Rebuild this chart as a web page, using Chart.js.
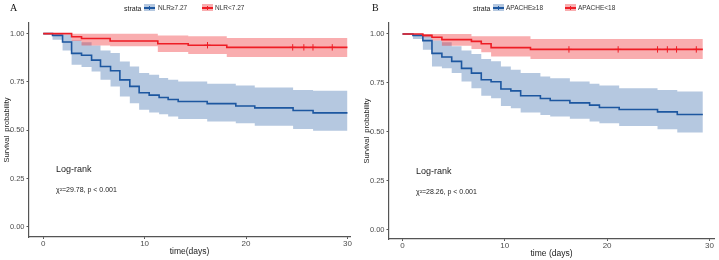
<!DOCTYPE html>
<html><head><meta charset="utf-8">
<script src="https://cdn.jsdelivr.net/npm/chart.js@4.4.1/dist/chart.umd.min.js"></script>
<style>
body{margin:0;background:#fff;width:719px;height:260px;overflow:hidden;position:relative;font-family:"Liberation Sans",Arial,sans-serif}
canvas{position:absolute;top:0}
#ca{left:0}
#cb{left:360px}
.t{position:absolute;white-space:nowrap;color:#222;line-height:1}
.let{font-family:"Liberation Serif","Times New Roman",serif;font-size:10px;color:#111}
.leg{font-size:6.5px;color:#333}
.sw{position:absolute;width:11px;height:7px}
.sw i{position:absolute;left:0;top:3px;width:11px;height:1.5px}
.sw b{position:absolute;left:5px;top:1.5px;width:1px;height:4.5px}
.lr{font-size:9px;color:#222}
.chi{font-size:7px;color:#222}
</style></head>
<body>
<canvas id="ca" width="360" height="260"></canvas>
<canvas id="cb" width="359" height="260"></canvas>

<div class="t let" style="left:10px;top:3px">A</div>
<div class="t let" style="left:372px;top:3px">B</div>

<div class="t" style="left:124px;top:5px;font-size:7px;color:#222">strata</div>
<div class="sw" style="left:144px;top:4px;background:rgba(29,87,160,0.33)"><i style="background:#1D57A0"></i><b style="background:#1D57A0"></b></div>
<div class="t leg" style="left:158px;top:5px">NLR≥7.27</div>
<div class="sw" style="left:202px;top:4px;background:rgba(240,40,45,0.38)"><i style="background:#EE1D25"></i><b style="background:#EE1D25"></b></div>
<div class="t leg" style="left:215px;top:5px">NLR&lt;7.27</div>

<div class="t" style="left:473px;top:5px;font-size:7px;color:#222">strata</div>
<div class="sw" style="left:493px;top:4px;background:rgba(29,87,160,0.33)"><i style="background:#1D57A0"></i><b style="background:#1D57A0"></b></div>
<div class="t leg" style="left:506px;top:5px">APACHE≥18</div>
<div class="sw" style="left:565px;top:4px;background:rgba(240,40,45,0.38)"><i style="background:#EE1D25"></i><b style="background:#EE1D25"></b></div>
<div class="t leg" style="left:578px;top:5px">APACHE&lt;18</div>

<div class="t lr" style="left:56px;top:165px">Log-rank</div>
<div class="t chi" style="left:56px;top:186px">χ²=29.78, p &lt; 0.001</div>
<div class="t lr" style="left:416px;top:167px">Log-rank</div>
<div class="t chi" style="left:416px;top:188px">χ²=28.26, p &lt; 0.001</div>

<script>
// ---------- shared ----------
const xTicks = [0, 10, 20, 30];
const yTicks = [0, 0.25, 0.5, 0.75, 1];

// ---------- Panel A : NLR ----------
const aHighTime  = [0, 0.92, 1.91, 2.80, 3.78, 4.77, 5.65, 6.64, 7.56, 8.54, 9.46, 10.45, 11.43, 12.32, 13.31, 16.17, 18.99, 20.86, 24.64, 26.61, 30];
const aHighSurv  = [1, 0.991, 0.957, 0.898, 0.888, 0.863, 0.830, 0.808, 0.761, 0.727, 0.694, 0.682, 0.670, 0.659, 0.649, 0.638, 0.626, 0.616, 0.602, 0.590, 0.590];
const aHighUpper = [1, 1.000, 0.995, 0.965, 0.956, 0.938, 0.913, 0.900, 0.856, 0.830, 0.796, 0.787, 0.770, 0.761, 0.753, 0.741, 0.732, 0.721, 0.709, 0.704, 0.704];
const aHighLower = [1, 0.969, 0.913, 0.839, 0.827, 0.804, 0.761, 0.727, 0.675, 0.640, 0.606, 0.592, 0.583, 0.571, 0.559, 0.545, 0.536, 0.523, 0.507, 0.497, 0.497];

const aLowTime  = [0, 2.80, 3.78, 6.60, 11.30, 14.30, 18.10, 30];
const aLowSurv  = [1, 0.984, 0.975, 0.962, 0.948, 0.940, 0.929, 0.929];
const aLowUpper = [1, 1.000, 1.000, 1.000, 0.990, 0.986, 0.978, 0.978];
const aLowLower = [1, 0.962, 0.938, 0.935, 0.905, 0.894, 0.879, 0.879];

const aCensorTime = [16.2, 24.6, 25.7, 26.6, 28.5];
const aCensorSurv = [0.940, 0.929, 0.929, 0.929, 0.929];

// ---------- Panel B : APACHE ----------
const bHighTime  = [0, 1.02, 1.99, 2.88, 3.85, 4.81, 5.77, 6.74, 7.70, 8.66, 9.62, 10.59, 11.55, 13.48, 14.44, 16.36, 18.29, 19.25, 21.18, 24.93, 26.86, 29.36];
const bHighSurv  = [1, 0.993, 0.966, 0.901, 0.882, 0.860, 0.824, 0.800, 0.766, 0.756, 0.719, 0.709, 0.684, 0.670, 0.660, 0.648, 0.636, 0.624, 0.614, 0.602, 0.588, 0.588];
const bHighUpper = [1, 1.000, 0.996, 0.967, 0.957, 0.937, 0.916, 0.897, 0.872, 0.860, 0.834, 0.817, 0.800, 0.783, 0.774, 0.757, 0.745, 0.736, 0.723, 0.714, 0.706, 0.706];
const bHighLower = [1, 0.974, 0.919, 0.834, 0.825, 0.800, 0.757, 0.723, 0.684, 0.672, 0.632, 0.620, 0.598, 0.586, 0.578, 0.566, 0.552, 0.543, 0.530, 0.513, 0.496, 0.496];

const bLowTime  = [0, 1.99, 2.88, 3.85, 6.74, 7.70, 8.66, 12.51, 29.36];
const bLowSurv  = [1, 0.993, 0.983, 0.971, 0.962, 0.950, 0.930, 0.921, 0.921];
const bLowUpper = [1, 1.000, 1.000, 1.000, 0.988, 0.988, 0.988, 0.974, 0.974];
const bLowLower = [1, 0.983, 0.967, 0.940, 0.923, 0.906, 0.885, 0.872, 0.872];

const bCensorTime = [16.27, 21.08, 24.93, 25.89, 26.79, 28.72];
const bCensorSurv = [0.921, 0.921, 0.921, 0.921, 0.921, 0.921];

// ---------- styles ----------
const BLUE = '#1D57A0', BLUE_BAND = 'rgba(29,87,160,0.33)';
const RED = '#EE1D25', RED_BAND = 'rgba(240,40,45,0.38)';

const pts = (xs, ys) => xs.map((x, i) => ({x: x, y: ys[i]}));

function lineDs(label, xs, ys, color) {
  return {label, data: pts(xs, ys), borderColor: color, borderWidth: 1.6, stepped: true,
          pointRadius: 0, fill: false, order: 0};
}
function bandDs(label, xs, ys, color, fillTarget, order) {
  return {label, data: pts(xs, ys), borderWidth: 0, borderColor: 'rgba(0,0,0,0)', stepped: true,
          pointRadius: 0, backgroundColor: color, fill: fillTarget, order: order};
}

function makeChart(id, o) {
  const ds = [
    lineDs(o.lowName, o.lowT, o.lowS, RED),
    lineDs(o.highName, o.highT, o.highS, BLUE),
    {label: 'censor', type: 'scatter', data: pts(o.cT, o.cS), pointStyle: 'cross', pointRadius: 3.2,
     borderColor: RED, borderWidth: 1, backgroundColor: RED, order: -1},
    bandDs('hiU', o.highT, o.highU, BLUE_BAND, '+1', 2),
    bandDs('hiL', o.highT, o.highL, BLUE_BAND, false, 2),
    bandDs('loU', o.lowT, o.lowU, RED_BAND, '+1', 1),
    bandDs('loL', o.lowT, o.lowL, RED_BAND, false, 1)
  ];
  return new Chart(document.getElementById(id), {
    type: 'line',
    data: {datasets: ds},
    options: {
      responsive: false, animation: false, devicePixelRatio: 1,
      layout: {padding: {top: o.padTop, right: o.padRight, left: 0, bottom: 0}},
      plugins: {legend: {display: false}, tooltip: {enabled: false}},
      scales: {
        x: {
          type: 'linear', min: o.xMin, max: o.xMax,
          afterBuildTicks: s => { s.ticks = xTicks.map(v => ({value: v})); },
          afterFit: s => { s.height = o.xH; },
          ticks: {font: {size: 8}, color: '#4D4D4D', padding: 0, maxRotation: 0, autoSkip: false},
          grid: {drawOnChartArea: false, drawTicks: true, tickLength: 2, color: '#555'},
          border: {display: true, color: '#555', width: 1.2},
          title: {display: true, text: o.xTitle, font: {size: 8.5}, color: '#222', padding: {top: 0, bottom: o.xTitlePad}}
        },
        y: {
          type: 'linear', min: o.yMin, max: o.yMax,
          afterBuildTicks: s => { s.ticks = yTicks.map(v => ({value: v})); },
          afterFit: s => { s.width = 29; },
          ticks: {font: {size: 7.5}, color: '#4D4D4D', padding: 2, callback: v => Number(v).toFixed(2)},
          grid: {drawOnChartArea: false, drawTicks: true, tickLength: 2.5, color: '#555'},
          border: {display: true, color: '#555', width: 1.2},
          title: {display: true, text: 'Survival  probability', font: {size: 7.5}, color: '#222', padding: {top: 2, bottom: 0}}
        }
      }
    }
  });
}

Chart.defaults.font.family = '"Liberation Sans", Arial, sans-serif';

makeChart('ca', {
  lowName: 'NLR<7.27', highName: 'NLR≥7.27',
  lowT: aLowTime, lowS: aLowSurv, lowU: aLowUpper, lowL: aLowLower,
  highT: aHighTime, highS: aHighSurv, highU: aHighUpper, highL: aHighLower,
  cT: aCensorTime, cS: aCensorSurv,
  xMin: -1.4, xMax: 30.25, yMin: -0.052, yMax: 1.055,
  padTop: 23, padRight: 10, xH: 23, xTitle: 'time(days)', xTitlePad: 3
});
makeChart('cb', {
  lowName: 'APACHE<18', highName: 'APACHE≥18',
  lowT: bLowTime, lowS: bLowSurv, lowU: bLowUpper, lowL: bLowLower,
  highT: bHighTime, highS: bHighSurv, highU: bHighUpper, highL: bHighLower,
  cT: bCensorTime, cS: bCensorSurv,
  xMin: -1.32, xMax: 30.45, yMin: -0.048, yMax: 1.056,
  padTop: 23, padRight: 0, xH: 21, xTitle: 'time (days)', xTitlePad: 1
});
</script>
</body></html>
